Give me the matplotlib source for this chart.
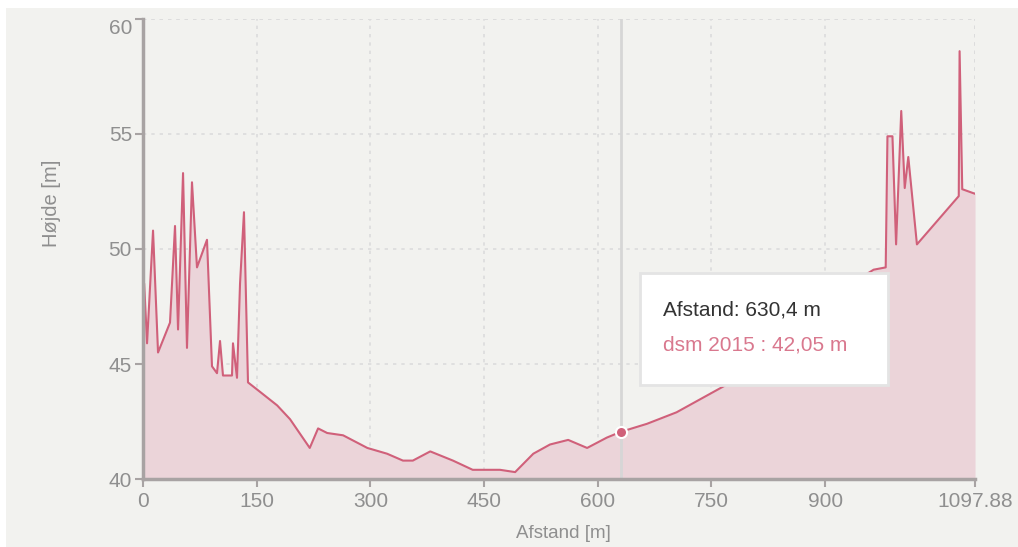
import matplotlib
matplotlib.use("Agg")
import matplotlib.pyplot as plt
from matplotlib.patches import Rectangle
from matplotlib.transforms import ScaledTranslation

# hoejdeprofil - afstand [m] og hoejde [m]
afstand = [0, 1.5, 5.3, 13.2, 19.8, 35.6, 42.2, 46.2, 52.8, 58.0,
           64.6, 71.2, 84.4, 91.0, 97.6, 101.6, 105.5, 117.4, 118.7, 124.0,
           128.0, 133.2, 138.5, 154, 177, 194, 220, 231, 243, 264,
           296, 322, 343, 356, 379, 409, 435, 471, 491, 515,
           537, 561, 586, 612, 630.4, 665, 704, 748, 770, 800,
           850, 900, 940, 964, 980, 982.3, 988.9, 993.7, 1000.5, 1005.1,
           1009.8, 1021.2, 1076.4, 1077.5, 1081, 1097.88]
hoejde = [44.8, 48.5, 45.9, 50.8, 45.5, 46.8, 51.0, 46.5, 53.3, 45.7,
          52.9, 49.2, 50.4, 44.9, 44.6, 46.0, 44.5, 44.5, 45.9, 44.4,
          48.5, 51.6, 44.2, 43.8, 43.2, 42.6, 41.35, 42.2, 42.0, 41.9,
          41.35, 41.1, 40.8, 40.8, 41.2, 40.8, 40.4, 40.4, 40.3, 41.1,
          41.5, 41.7, 41.35, 41.8, 42.05, 42.4, 42.9, 43.7, 44.1, 44.9,
          46.3, 47.6, 48.6, 49.1, 49.2, 54.9, 54.9, 50.2, 56.0, 52.65,
          54.0, 50.2, 52.3, 58.6, 52.6, 52.4]

xticks = [0, 150, 300, 450, 600, 750, 900, 1097.88]
xlabels = ["0", "150", "300", "450", "600", "750", "900", "1097.88"]
yticks = [40, 45, 50, 55, 60]

valgt_x = 630.4
valgt_y = 42.05

plt.rcParams['font.family'] = ['Liberation Sans', 'DejaVu Sans']

linje = '#d0607a'
fyld = '#ebd4d9'
graa = '#8f8f8f'

fig = plt.figure(figsize=(10.18, 5.47), dpi=100)
fig.patch.set_facecolor('white')
fig.patches.append(Rectangle((6 / 1018, 0), 1, 1 - 8 / 547, transform=fig.transFigure,
                             facecolor='#f2f2ef', edgecolor='none', zorder=-10))
ax = fig.add_axes([0.1405, 0.1243, 0.8173, 0.841])
ax.set_facecolor('none')

ax.fill_between(afstand, hoejde, 40, color=fyld, linewidth=0, zorder=2)
ax.plot(afstand, hoejde, color=linje, linewidth=1.5, zorder=3)

# trådkors og punkt
ax.axvline(valgt_x, color='#d6d6d6', linewidth=2, zorder=2.5)
ax.plot([valgt_x], [valgt_y], 'o', color=linje, markersize=8,
        markeredgecolor='white', markeredgewidth=1.5, zorder=4)

ax.set_xlim(0, 1097.88)
ax.set_ylim(40, 60)
ax.set_xticks(xticks)
ax.set_xticklabels(xlabels)
ax.set_yticks(yticks)

prik = (0, (2, 3))
ax.grid(True, color='#dcdcdc', linestyle=prik, linewidth=1.2, zorder=1)
for s in ['top', 'right']:
    ax.spines[s].set_visible(False)
for s in ['left', 'bottom']:
    ax.spines[s].set_color('#a8a3a3')
    ax.spines[s].set_linewidth(2.5)
    ax.spines[s].set_zorder(5)
ax.axvline(1097.88, color='#dcdcdc', linestyle=prik, linewidth=1.2, zorder=1)
ax.axhline(60, color='#dcdcdc', linestyle=prik, linewidth=1.2, zorder=1)

ax.tick_params(axis='both', colors='#a8a3a3', labelcolor=graa, labelsize=15,
               length=6, width=1.5)
ax.tick_params(axis='y', pad=2)
# øverste label står lidt lavere i originalen
top_lbl = ax.yaxis.get_major_ticks()[-1].label1
top_lbl.set_transform(top_lbl.get_transform() + ScaledTranslation(0, -0.08, fig.dpi_scale_trans))

ax.set_xlabel('Afstand [m]', color=graa, fontsize=13.5, va='center')
ax.xaxis.set_label_coords(0.505, -0.118)
ax.set_ylabel('Højde [m]', color=graa, fontsize=14.5)
ax.yaxis.set_label_coords(-0.098, 0.6)

# tooltip
fig.patches.append(Rectangle((640 / 1018, 1 - 385 / 547), 248 / 1018, 112 / 547,
                             transform=fig.transFigure, facecolor='white',
                             edgecolor='#e4e4e4', linewidth=2, zorder=6))
fig.text(663 / 1018, 1 - 310 / 547, 'Afstand: 630,4 m', color='#333333',
         fontsize=15, va='center', zorder=7)
fig.text(663 / 1018, 1 - 345 / 547, 'dsm 2015 : 42,05 m', color='#d9788e',
         fontsize=15, va='center', zorder=7)

plt.savefig('out.png', dpi=100, facecolor=fig.get_facecolor())
